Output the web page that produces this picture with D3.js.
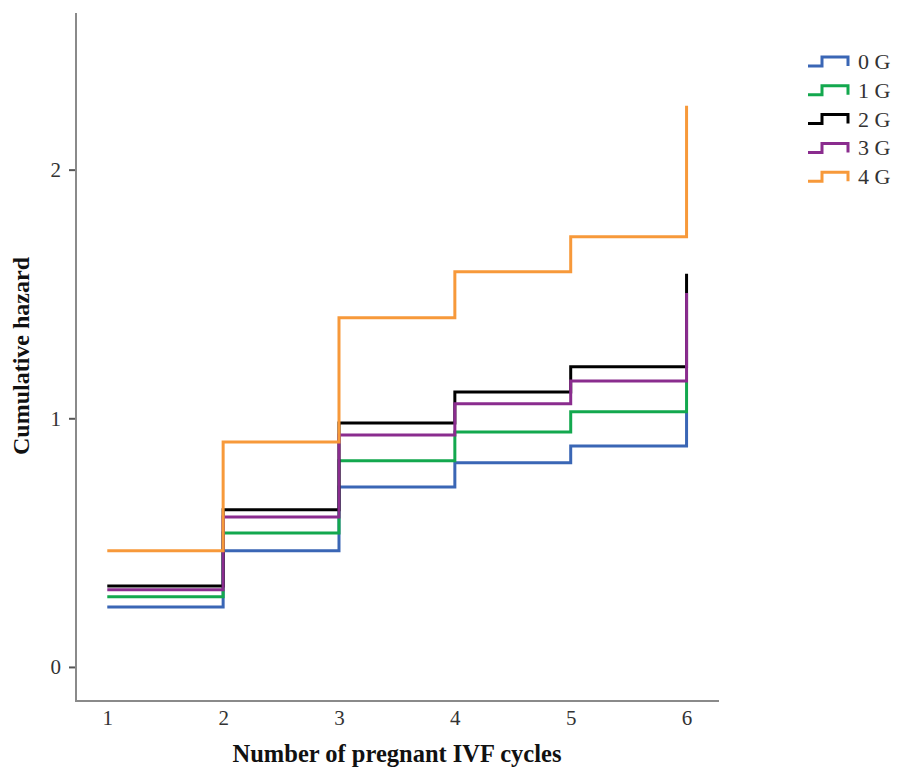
<!DOCTYPE html>
<html>
<head>
<meta charset="utf-8">
<script src="https://cdn.jsdelivr.net/npm/d3@7"></script>
<style>
  html, body { margin: 0; padding: 0; background: #ffffff; }
  svg { display: block; }
</style>
</head>
<body>
<svg id="chart" width="897" height="768"></svg>
<script>
// ---- Data ----
const cycles = [1, 2, 3, 4, 5, 6];
const groups = ["0 G", "1 G", "2 G", "3 G", "4 G"];
const hazard0G = [0.241, 0.467, 0.724, 0.821, 0.889, 1.022];
const hazard1G = [0.282, 0.539, 0.829, 0.945, 1.026, 1.146];
const hazard2G = [0.326, 0.632, 0.981, 1.106, 1.207, 1.581];
const hazard3G = [0.310, 0.603, 0.933, 1.058, 1.150, 1.504];
const hazard4G = [0.467, 0.905, 1.404, 1.589, 1.730, 2.257];
const yTicks = [0, 1, 2];
const xTicks = [1, 2, 3, 4, 5, 6];
const colors = ["#3a66b5", "#13a84e", "#000000", "#8a2c8e", "#f7993a"];

const seriesValues = [hazard0G, hazard1G, hazard2G, hazard3G, hazard4G];
const series = groups.map((g, i) => ({
  name: g,
  color: colors[i],
  points: cycles.map((c, j) => ({ x: c, y: seriesValues[i][j] }))
}));

// ---- Layout ----
const svg = d3.select("#chart");
const plotLeft = 76, plotRight = 719, plotTop = 13, plotBottom = 701;

const x = d3.scaleLinear().domain([0.73, 6.28]).range([plotLeft, plotRight]);
const y = d3.scaleLinear().domain([-0.137, 2.63]).range([plotBottom, plotTop]);

const font = "'Liberation Serif', 'Times New Roman', serif";

// Y axis
const yAxis = d3.axisLeft(y).tickValues(yTicks).tickSize(7).tickPadding(8).tickFormat(d3.format("d"));
const gy = svg.append("g").attr("transform", `translate(${plotLeft},0)`).call(yAxis);
gy.select(".domain").remove();
gy.selectAll(".tick line").attr("stroke", "#555").attr("stroke-width", 2);
gy.selectAll(".tick text").attr("font-family", font).attr("font-size", 21).attr("fill", "#333");

// X axis
const xAxis = d3.axisBottom(x).tickValues(xTicks).tickSize(0).tickPadding(9).tickFormat(d3.format("d"));
const gx = svg.append("g").attr("transform", `translate(0,${plotBottom})`).call(xAxis);
gx.select(".domain").remove();
gx.selectAll(".tick text").attr("font-family", font).attr("font-size", 21).attr("fill", "#333");

// Axis lines
svg.append("line").attr("x1", plotLeft).attr("x2", plotLeft).attr("y1", plotTop).attr("y2", plotBottom + 1)
  .attr("stroke", "#8a8a8a").attr("stroke-width", 2);
svg.append("line").attr("x1", plotLeft).attr("x2", plotRight).attr("y1", plotBottom).attr("y2", plotBottom)
  .attr("stroke", "#8a8a8a").attr("stroke-width", 2);

// Step lines
const line = d3.line().x(d => x(d.x)).y(d => y(d.y)).curve(d3.curveStepAfter);
svg.append("g").selectAll("path").data(series).join("path")
  .attr("d", d => line(d.points))
  .attr("fill", "none")
  .attr("stroke", d => d.color)
  .attr("stroke-width", 3)
  .attr("stroke-linejoin", "miter")
  .attr("stroke-linecap", "butt");

// Axis titles
svg.append("text")
  .attr("transform", `translate(29,356) rotate(-90)`)
  .attr("text-anchor", "middle")
  .attr("font-family", font).attr("font-weight", "bold").attr("font-size", 24)
  .attr("fill", "#111")
  .text("Cumulative hazard");

svg.append("text")
  .attr("x", 397).attr("y", 762)
  .attr("text-anchor", "middle")
  .attr("font-family", font).attr("font-weight", "bold").attr("font-size", 24.5)
  .attr("fill", "#111")
  .text("Number of pregnant IVF cycles");

// Legend
const legend = svg.append("g");
const legendItems = legend.selectAll("g").data(series).join("g")
  .attr("transform", (d, i) => `translate(808,${62 + i * 28.8})`);
legendItems.append("path")
  .attr("d", "M0,4 L14,4 L14,-5 L40,-5 L40,4")
  .attr("fill", "none")
  .attr("stroke", d => d.color)
  .attr("stroke-width", 3);
legendItems.append("text")
  .attr("x", 50).attr("y", 7)
  .attr("font-family", font).attr("font-size", 22)
  .attr("fill", "#333")
  .text(d => d.name);
</script>
</body>
</html>
